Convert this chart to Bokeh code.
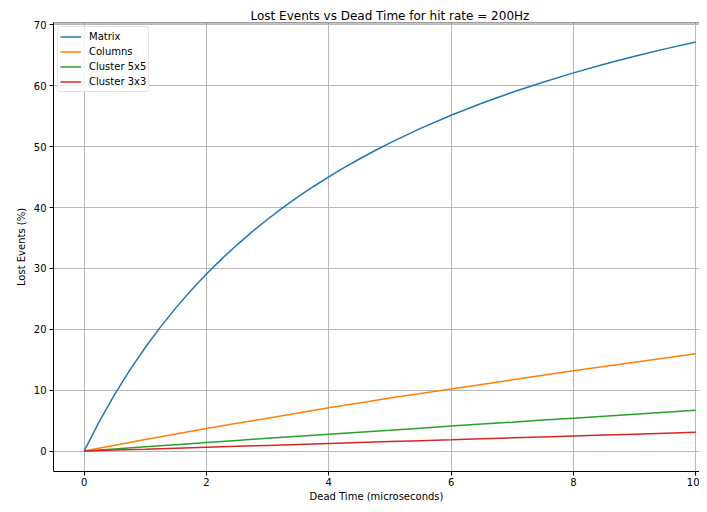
from bokeh.plotting import figure
from bokeh.models import Range1d, Span, Legend, LegendItem, FixedTicker
from bokeh.embed import file_html
from bokeh.resources import INLINE

matrix_time = [0.0, 0.25, 0.5, 0.75, 1.0, 1.25, 1.5, 1.75, 2.0, 2.25, 2.5, 2.75,
               3.0, 3.25, 3.5, 3.75, 4.0, 4.25, 4.5, 4.75, 5.0, 5.5, 6.0, 6.5,
               7.0, 7.5, 8.0, 8.5, 9.0, 9.5, 10.0]
matrix = [0.0, 4.88, 9.30, 13.33, 17.01, 20.40, 23.52, 26.40, 29.08, 31.57, 33.88, 36.05,
          38.08, 39.99, 41.78, 43.46, 45.05, 46.56, 47.98, 49.33, 50.62, 53.00, 55.16, 57.13,
          58.93, 60.59, 62.12, 63.54, 64.85, 66.07, 67.21]
dead_time = [0.0, 0.5, 1.0, 1.5, 2.0, 2.5, 3.0, 3.5, 4.0, 4.5, 5.0,
             5.5, 6.0, 6.5, 7.0, 7.5, 8.0, 8.5, 9.0, 9.5, 10.0]
columns = [0.0, 0.95, 1.9, 2.8, 3.7, 4.55, 5.4, 6.25, 7.1, 7.9, 8.7,
           9.45, 10.2, 10.95, 11.7, 12.45, 13.2, 13.9, 14.6, 15.3, 16.0]
cluster5 = [0.0, 0.35, 0.7, 1.05, 1.4, 1.75, 2.1, 2.43, 2.75, 3.08, 3.4,
            3.75, 4.1, 4.43, 4.75, 5.08, 5.4, 5.73, 6.05, 6.38, 6.7]
cluster3 = [0.0, 0.16, 0.31, 0.47, 0.62, 0.78, 0.93, 1.09, 1.25, 1.4, 1.55,
            1.71, 1.86, 2.02, 2.17, 2.32, 2.47, 2.62, 2.77, 2.92, 3.07]
series_names = ["Matrix", "Columns", "Cluster 5x5", "Cluster 3x3"]
series_colors = ["#1f77b4", "#ff7f0e", "#2ca02c", "#d62728"]
x_ticks = [0, 2, 4, 6, 8, 10]
y_ticks = [0, 10, 20, 30, 40, 50, 60, 70]

FONT = "DejaVu Sans"

p = figure(width=699, height=504, output_backend="svg", toolbar_location=None,
           x_range=Range1d(-0.5, 10.06), y_range=Range1d(-3.36, 70.4),
           min_border_left=53, min_border_right=0, min_border_top=22,
           min_border_bottom=30,
           title="Lost Events vs Dead Time for hit rate = 200Hz")
p.title.text_font = FONT
p.title.text_font_size = "12px"
p.title.text_font_style = "normal"
p.title.align = "left"
p.title.offset = 197
p.title.standoff = 0
p.title.text_color = "#000000"

p.outline_line_color = None
p.background_fill_color = "white"
p.border_fill_color = "white"

for ax in (p.xaxis, p.yaxis):
    ax.axis_line_color = "#000000"
    ax.axis_line_width = 1
    ax.major_tick_line_color = "#000000"
    ax.major_tick_out = 4
    ax.major_tick_in = 0
    ax.minor_tick_line_color = None
    ax.major_label_text_font = FONT
    ax.major_label_text_font_size = "10px"
    ax.major_label_text_color = "#000000"
    ax.axis_label_text_font = FONT
    ax.axis_label_text_font_size = "10px"
    ax.axis_label_text_font_style = "normal"
    ax.axis_label_text_color = "#000000"
    ax.major_label_standoff = 3

p.xaxis.ticker = FixedTicker(ticks=x_ticks)
p.yaxis.ticker = FixedTicker(ticks=y_ticks)
p.xaxis.axis_label = "Dead Time (microseconds)"
p.yaxis.axis_label = "Lost Events (%)"
p.xaxis.axis_label_standoff = 2
p.xaxis.major_label_standoff = 2
p.yaxis.axis_label_standoff = 4

p.grid.grid_line_color = "#b0b0b0"
p.grid.grid_line_width = 1
p.grid.grid_line_alpha = 0.9

top_spine = Span(location=70.36, dimension="width", line_color="#000000", line_width=1)
p.add_layout(top_spine)

items = []
xs_list = [matrix_time, dead_time, dead_time, dead_time]
for name, xs, ys, col in zip(series_names, xs_list, [matrix, columns, cluster5, cluster3], series_colors):
    r = p.line(xs, ys, line_color=col, line_width=1.5)
    items.append(LegendItem(label=name, renderers=[r]))

legend = Legend(items=items, location="top_left")
legend.label_text_font = FONT
legend.label_text_font_size = "10px"
legend.label_text_color = "#000000"
legend.glyph_width = 21
legend.glyph_height = 15
legend.label_height = 15
legend.label_standoff = 8
legend.spacing = 0
legend.padding = 2
legend.margin = 4
legend.border_line_color = "#cccccc"
legend.border_line_width = 1
legend.background_fill_alpha = 0.8
legend.border_radius = 3
p.add_layout(legend)

open("out.html", "w").write(file_html(p, INLINE))
